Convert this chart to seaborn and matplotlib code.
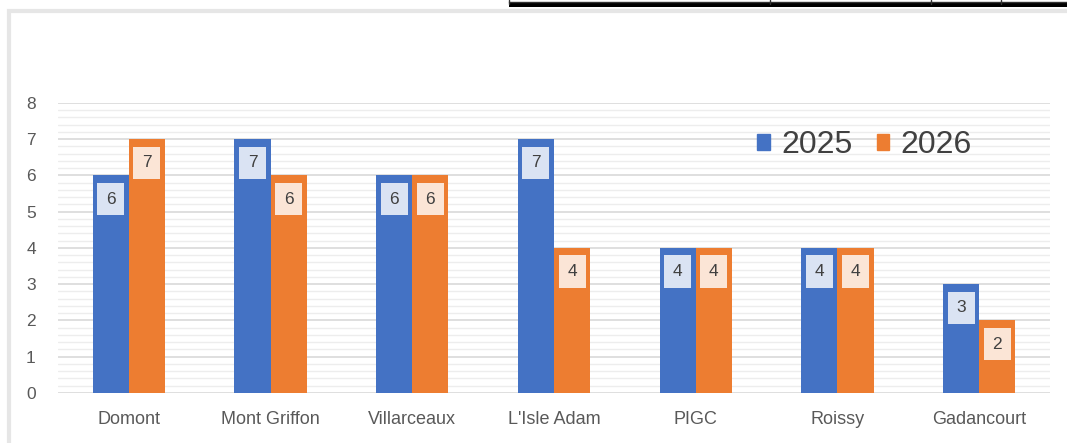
import matplotlib
matplotlib.use("Agg")
import matplotlib.pyplot as plt
import seaborn as sns
import pandas as pd
from matplotlib.patches import Rectangle
from matplotlib.lines import Line2D

sites = ["Domont", "Mont Griffon", "Villarceaux", "L'Isle Adam", "PIGC", "Roissy", "Gadancourt"]
years = ["2025", "2026"]
values_2025 = [6, 7, 6, 7, 4, 4, 3]
values_2026 = [7, 6, 6, 4, 4, 4, 2]
yticks = [0, 1, 2, 3, 4, 5, 6, 7, 8]

colors = ["#4472C4", "#ED7D31"]
label_fills = ["#DAE3F3", "#FBE5D6"]

df = pd.DataFrame({
    "site": sites * 2,
    "year": [years[0]] * len(sites) + [years[1]] * len(sites),
    "value": values_2025 + values_2026,
})

sns.set_theme(style="white")
plt.rcParams["font.family"] = ["Liberation Sans", "DejaVu Sans"]

fig = plt.figure(figsize=(10.67, 4.43), dpi=100)
ax = fig.add_axes([0.0544, 0.1129, 0.9296, 0.6546])

sns.barplot(data=df, x="site", y="value", hue="year", palette=colors,
            width=0.51, dodge=True, ax=ax, legend=False, saturation=1,
            edgecolor="none")

ax.set_ylim(0, 8)
ax.set_xlim(-0.5, len(sites) - 0.5)
ax.set_yticks(yticks)
ax.set_yticks([i / 5 for i in range(41)], minor=True)
ax.grid(axis="y", which="minor", color="#EDEDED", linewidth=1.0, zorder=0)
ax.grid(axis="y", which="major", color="#D9D9D9", linewidth=1.2, zorder=0)
ax.set_axisbelow(True)
for s in ax.spines.values():
    s.set_visible(False)
ax.set_xlabel("")
ax.set_ylabel("")
ax.tick_params(axis="y", which="both", length=0, pad=16, labelsize=12.5, labelcolor="#595959")
ax.tick_params(axis="x", length=0, pad=13, labelsize=13, labelcolor="#595959")

for ci, cont in enumerate(ax.containers):
    for bar in cont:
        h = bar.get_height()
        xc = bar.get_x() + bar.get_width() / 2
        ax.annotate(f"{int(h)}", xy=(xc, h), xytext=(0, -17), textcoords="offset points",
                    ha="center", va="center", fontsize=12.5, color="#404040",
                    bbox=dict(boxstyle="square,pad=0.5", fc=label_fills[ci], ec="none"))

handles = [Rectangle((0, 0), 1, 1, color=c) for c in colors]
leg = ax.legend(handles, years, loc="center left", bbox_to_anchor=(0.689, 0.855),
                frameon=False, fontsize=23, handlelength=0.4, handleheight=0.4,
                handletextpad=0.35, columnspacing=0.75, ncol=2, labelcolor="#404040",
                borderpad=0.0)

# outer chart frame (light gray) and the black table fragment at top right
fig.add_artist(Rectangle((0.008, -0.1), 1.2, 1.075, transform=fig.transFigure,
                         fill=False, ec="#E6E6E6", lw=3))
fig.add_artist(Rectangle((509 / 1067, 1 - 7 / 443), 1 - 509 / 1067, 4 / 443,
                         transform=fig.transFigure, color="black", lw=0))
fig.add_artist(Line2D([509 / 1067, 1], [1 - 2 / 443, 1 - 2 / 443],
                      transform=fig.transFigure, color="#333333", lw=1))
for xv in [509, 770, 931, 1001]:
    fig.add_artist(Line2D([xv / 1067, xv / 1067], [1, 1 - 4 / 443],
                          transform=fig.transFigure, color="#333333", lw=1))

fig.savefig("out.png", dpi=100)
